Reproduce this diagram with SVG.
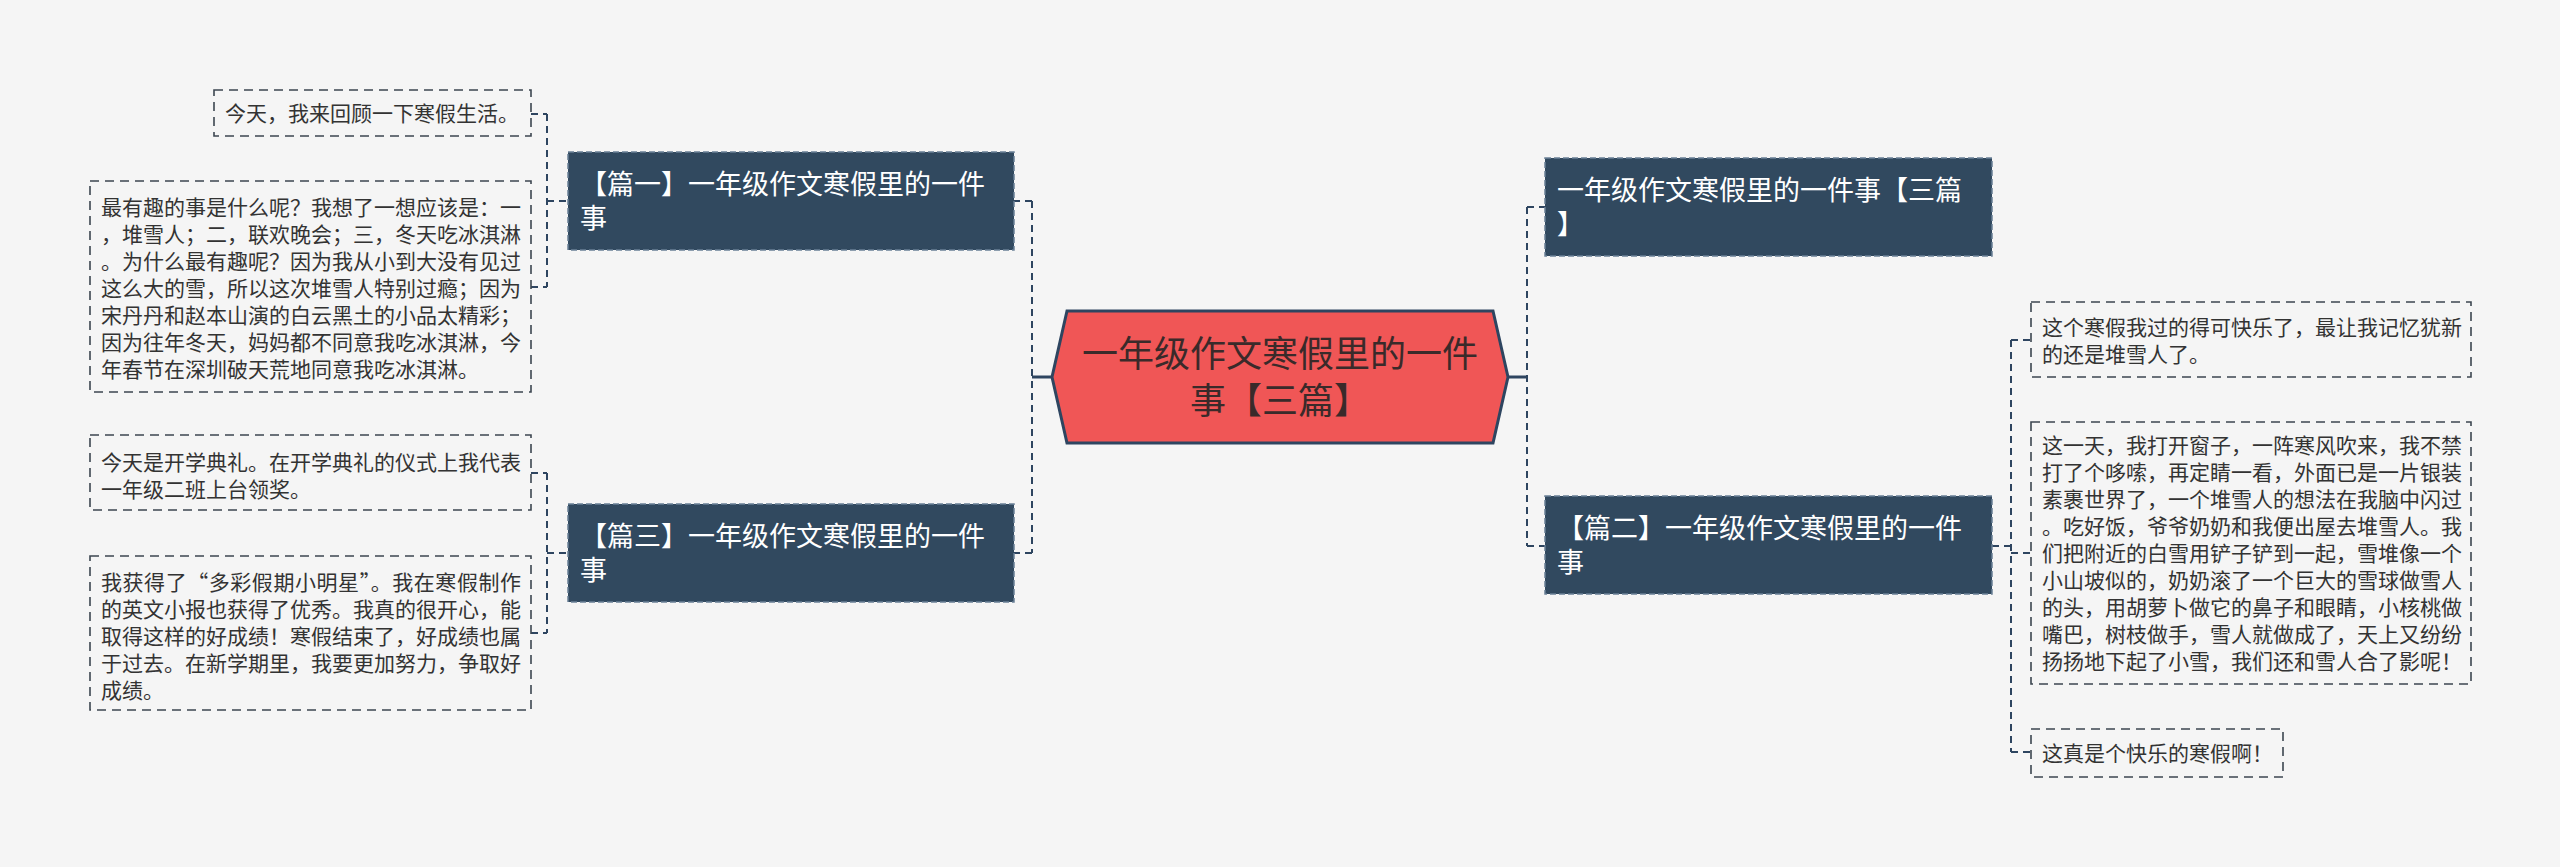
<svg xmlns="http://www.w3.org/2000/svg" width="2560" height="867" viewBox="0 0 2560 867">
<style>
.bg{fill:#f5f5f5}
.conn{fill:none;stroke:#2e4560;stroke-width:2;stroke-dasharray:7,5}
.solid{fill:none;stroke:#2e4560;stroke-width:3}
.leaf{fill:none;stroke:#3c4650;stroke-width:1.6;stroke-dasharray:9,6}
.node{fill:#31495f;stroke:#6a8096;stroke-width:1.5;stroke-dasharray:6,3}
.hex{fill:#f05656;stroke:#2e4560;stroke-width:3}
.lt{font-family:"Noto Sans CJK SC","Microsoft YaHei",sans-serif;font-size:21px;fill:#333333}
.nt{font-family:"Noto Sans CJK SC","Microsoft YaHei",sans-serif;font-size:27px;fill:#ffffff}
.ct{font-family:"Noto Sans CJK SC","Microsoft YaHei",sans-serif;font-size:36px;fill:#3a2a2a;text-anchor:middle}
.fw{font-feature-settings:"fwid" 1}
</style>
<rect class="bg" x="0" y="0" width="2560" height="867"/>
<g id="connectors">
  <path class="solid" d="M1052 377 H1032"/>
  <path class="conn" d="M1032 201 V553 M1032 201 H1014 M1032 553 H1014"/>
  <path class="conn" d="M547 114 V287 M531 114 H547 M531 287 H547 M547 201 H568"/>
  <path class="conn" d="M547 473 V633 M531 473 H547 M531 633 H547 M547 553 H568"/>
  <path class="solid" d="M1508 377 H1527"/>
  <path class="conn" d="M1527 207 V546 M1527 207 H1545 M1527 546 H1545"/>
  <path class="conn" d="M2011 340 V752 M1992 546 H2011 M2011 340 H2031 M2011 553 H2031 M2011 752 H2031"/>
</g>
<g id="center">
  <polygon class="hex" points="1052,377 1067,311 1493,311 1508,377 1493,443 1067,443"/>
  <text class="ct" x="1280" y="367">一年级作文寒假里的一件</text>
  <text class="ct" x="1280" y="414">事【三篇】</text>
</g>
<g id="node-pian1">
  <rect class="node" x="568" y="152" width="446" height="98"/>
  <text class="nt" x="580" y="194">【篇一】一年级作文寒假里的一件</text>
  <text class="nt" x="580" y="228">事</text>
</g>
<g id="node-pian3">
  <rect class="node" x="568" y="504" width="446" height="98"/>
  <text class="nt" x="580" y="546">【篇三】一年级作文寒假里的一件</text>
  <text class="nt" x="580" y="580">事</text>
</g>
<g id="node-title">
  <rect class="node" x="1545" y="158" width="447" height="98"/>
  <text class="nt" x="1557" y="200">一年级作文寒假里的一件事【三篇</text>
  <text class="nt" x="1557" y="234">】</text>
</g>
<g id="node-pian2">
  <rect class="node" x="1545" y="496" width="447" height="98"/>
  <text class="nt" x="1557" y="538">【篇二】一年级作文寒假里的一件</text>
  <text class="nt" x="1557" y="572">事</text>
</g>
<g id="leaf-a">
  <rect class="leaf" x="214" y="90" width="317" height="46"/>
  <text class="lt" x="225" y="121">今天，我来回顾一下寒假生活。</text>
</g>
<g id="leaf-b">
  <rect class="leaf" x="90" y="181" width="441" height="211"/>
  <text class="lt" x="101" y="215">最有趣的事是什么呢？我想了一想应该是：一</text>
  <text class="lt" x="101" y="242">，堆雪人；二，联欢晚会；三，冬天吃冰淇淋</text>
  <text class="lt" x="101" y="269">。为什么最有趣呢？因为我从小到大没有见过</text>
  <text class="lt" x="101" y="296">这么大的雪，所以这次堆雪人特别过瘾；因为</text>
  <text class="lt" x="101" y="323">宋丹丹和赵本山演的白云黑土的小品太精彩；</text>
  <text class="lt" x="101" y="350">因为往年冬天，妈妈都不同意我吃冰淇淋，今</text>
  <text class="lt" x="101" y="377">年春节在深圳破天荒地同意我吃冰淇淋。</text>
</g>
<g id="leaf-c">
  <rect class="leaf" x="90" y="435" width="441" height="75"/>
  <text class="lt" x="101" y="470">今天是开学典礼。在开学典礼的仪式上我代表</text>
  <text class="lt" x="101" y="497">一年级二班上台领奖。</text>
</g>
<g id="leaf-d">
  <rect class="leaf" x="90" y="556" width="441" height="154"/>
  <text class="lt" x="101" y="590" textLength="420" lengthAdjust="spacing">我获得了<tspan class="fw">“</tspan>多彩假期小明星<tspan class="fw">”</tspan>。我在寒假制作</text>
  <text class="lt" x="101" y="617">的英文小报也获得了优秀。我真的很开心，能</text>
  <text class="lt" x="101" y="644">取得这样的好成绩！寒假结束了，好成绩也属</text>
  <text class="lt" x="101" y="671">于过去。在新学期里，我要更加努力，争取好</text>
  <text class="lt" x="101" y="698">成绩。</text>
</g>
<g id="leaf-e">
  <rect class="leaf" x="2031" y="302" width="440" height="75"/>
  <text class="lt" x="2042" y="335">这个寒假我过的得可快乐了，最让我记忆犹新</text>
  <text class="lt" x="2042" y="362">的还是堆雪人了。</text>
</g>
<g id="leaf-f">
  <rect class="leaf" x="2031" y="422" width="440" height="262"/>
  <text class="lt" x="2042" y="453">这一天，我打开窗子，一阵寒风吹来，我不禁</text>
  <text class="lt" x="2042" y="480">打了个哆嗦，再定睛一看，外面已是一片银装</text>
  <text class="lt" x="2042" y="507">素裹世界了，一个堆雪人的想法在我脑中闪过</text>
  <text class="lt" x="2042" y="534">。吃好饭，爷爷奶奶和我便出屋去堆雪人。我</text>
  <text class="lt" x="2042" y="561">们把附近的白雪用铲子铲到一起，雪堆像一个</text>
  <text class="lt" x="2042" y="588">小山坡似的，奶奶滚了一个巨大的雪球做雪人</text>
  <text class="lt" x="2042" y="615">的头，用胡萝卜做它的鼻子和眼睛，小核桃做</text>
  <text class="lt" x="2042" y="642">嘴巴，树枝做手，雪人就做成了，天上又纷纷</text>
  <text class="lt" x="2042" y="669">扬扬地下起了小雪，我们还和雪人合了影呢！</text>
</g>
<g id="leaf-g">
  <rect class="leaf" x="2031" y="729" width="252" height="48"/>
  <text class="lt" x="2042" y="761">这真是个快乐的寒假啊！</text>
</g>
</svg>
